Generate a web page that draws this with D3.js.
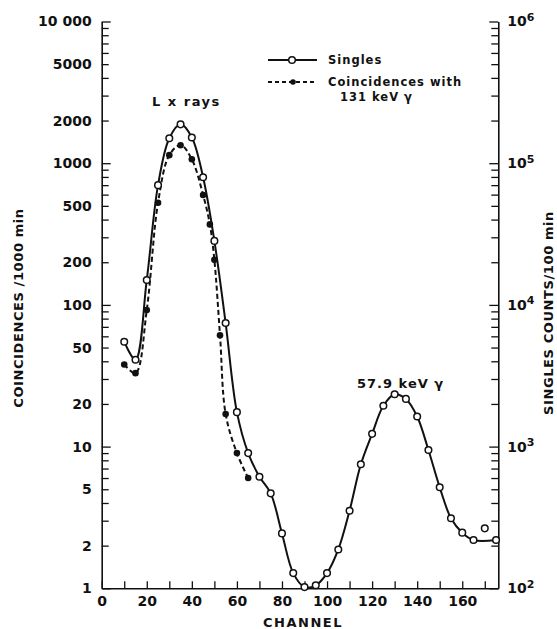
<!DOCTYPE html>
<html>
<head>
<meta charset="utf-8">
<script src="https://cdn.jsdelivr.net/npm/d3@7"></script>
<style>
  body { margin: 0; background: #fff; }
  text { font-family: "DejaVu Sans", sans-serif; font-weight: bold; fill: #111; }
</style>
</head>
<body>
<div id="chart"></div>
<script>
// Singles (right axis, counts / 100 min)
var singlesChannel = [10, 15, 20, 25, 30, 35, 40, 45, 50, 55, 60, 65, 70, 75, 80, 85, 90, 95,
  100, 105, 110, 115, 120, 125, 130, 135, 140, 145, 150, 155, 160, 165, 175];
var singlesCounts = [5500, 4100, 15000, 70000, 150000, 188000, 152000, 79500, 28300, 7450, 1750, 900, 613, 468, 244, 128, 102, 105,
  128, 188, 353, 750, 1230, 1940, 2340, 2170, 1630, 946, 516, 312, 247, 219, 219];
// stray singles point, not joined to the curve
var strayChannel = [170];
var strayCounts = [265];

// Coincidences with 131 keV gamma (left axis, per 1000 min)
var coincChannel = [10, 15, 20, 25, 30, 35, 40, 45, 48, 50, 52.5, 55, 60, 65];
var coincCounts = [38, 33, 92, 526, 1140, 1340, 1065, 597, 370, 208, 61, 17, 9, 6];

// tick labels
var xTicks = [0, 10, 20, 30, 40, 50, 60, 70, 80, 90, 100, 110, 120, 130, 140, 150, 160, 170];
var xLabels = [0, 20, 40, 60, 80, 100, 120, 140, 160];
var leftLabels = [1, 2, 5, 10, 20, 50, 100, 200, 500, 1000, 2000, 5000, 10000];
var rightLabels = [1e2, 1e3, 1e4, 1e5, 1e6];

var width = 557, height = 629;
var plot = {left: 101.7, right: 498.3, top: 21.5, bottom: 588.3};

var svg = d3.select("#chart")
  .append("svg")
    .attr("width", width)
    .attr("height", height);

// Scales
var x = d3.scaleLinear().domain([0, 176]).range([plot.left, plot.right]);
var yLeft = d3.scaleLog().domain([1, 10000]).range([plot.bottom, plot.top]);
var yRight = d3.scaleLog().domain([100, 1e6]).range([plot.bottom, plot.top]);

// all 1..9 x 10^k tick values
function logTicks(lo, hi) {
  var t = [];
  for (var p = lo; p < hi; p *= 10) {
    for (var m = 1; m < 10; m++) t.push(m * p);
  }
  t.push(hi);
  return t;
}
function isDecade(v) {
  var l = Math.log10(v);
  return Math.abs(l - Math.round(l)) < 1e-9;
}

// Add X axis
var xAxis = svg.append("g")
  .attr("transform", "translate(0," + plot.bottom + ")")
  .call(d3.axisBottom(x)
    .tickValues(xTicks)
    .tickSizeInner(-7)
    .tickSizeOuter(0)
    .tickPadding(8)
    .tickFormat(function(d) { return xLabels.indexOf(d) >= 0 ? d : ""; }));
xAxis.selectAll("text").style("font-size", "14px");

// X axis label
svg.append("text")
  .attr("x", 303)
  .attr("y", 627)
  .attr("text-anchor", "middle")
  .style("font-size", "13px")
  .style("letter-spacing", "1.5px")
  .text("CHANNEL");

// Add left Y axis
var leftAxis = svg.append("g")
  .attr("transform", "translate(" + plot.left + ",0)")
  .call(d3.axisLeft(yLeft)
    .tickValues(logTicks(1, 10000))
    .tickSizeInner(-7)
    .tickSizeOuter(0)
    .tickPadding(10)
    .tickFormat(function(d) {
      if (leftLabels.indexOf(d) < 0) return "";
      return d == 10000 ? "10 000" : d;
    }));
leftAxis.selectAll("line").attr("x2", function(d) { return isDecade(d) ? 9 : 7; });
leftAxis.selectAll("text").style("font-size", "14px");

// Left Y axis label
svg.append("text")
  .attr("transform", "translate(23,308) rotate(-90)")
  .attr("text-anchor", "middle")
  .style("font-size", "13px")
  .style("letter-spacing", "0.6px")
  .text("COINCIDENCES /1000 min");

// Add right Y axis
var rightAxis = svg.append("g")
  .attr("transform", "translate(" + plot.right + ",0)")
  .call(d3.axisRight(yRight)
    .tickValues(logTicks(100, 1e6))
    .tickSizeInner(-7)
    .tickSizeOuter(0)
    .tickPadding(9)
    .tickFormat(""));
rightAxis.selectAll("line").attr("x2", function(d) { return isDecade(d) ? -9 : -7; });
rightAxis.selectAll(".tick")
  .filter(function(d) { return rightLabels.indexOf(d) >= 0; })
  .append("text")
    .attr("x", 9)
    .attr("dy", "0.32em")
    .attr("text-anchor", "start")
    .style("font-size", "14px")
    .each(function(d) {
      var t = d3.select(this);
      t.append("tspan").text("10");
      t.append("tspan")
        .attr("dy", "-0.5em")
        .style("font-size", "11px")
        .text(Math.round(Math.log10(d)));
    });

// Right Y axis label
svg.append("text")
  .attr("transform", "translate(553,313) rotate(-90)")
  .attr("text-anchor", "middle")
  .style("font-size", "13px")
  .style("letter-spacing", "0.6px")
  .text("SINGLES  COUNTS/100 min");

svg.selectAll(".domain").attr("stroke", "#111").attr("stroke-width", 1.6);
svg.selectAll(".tick line").attr("stroke", "#111").attr("stroke-width", 1.3);

// Data tables
var singles = singlesChannel.map(function(c, i) { return {ch: c, v: singlesCounts[i]}; });
var stray = strayChannel.map(function(c, i) { return {ch: c, v: strayCounts[i]}; });
var coinc = coincChannel.map(function(c, i) { return {ch: c, v: coincCounts[i]}; });

// Coincidence curve (dashed)
svg.append("path")
  .datum(coinc)
  .attr("fill", "none")
  .attr("stroke", "#111")
  .attr("stroke-width", 2)
  .attr("stroke-dasharray", "5,3")
  .attr("d", d3.line()
    .curve(d3.curveCatmullRom.alpha(0.5))
    .x(function(d) { return x(d.ch); })
    .y(function(d) { return yLeft(d.v); }));

// Singles curve (solid)
svg.append("path")
  .datum(singles)
  .attr("fill", "none")
  .attr("stroke", "#111")
  .attr("stroke-width", 2)
  .attr("d", d3.line()
    .curve(d3.curveCatmullRom.alpha(0.5))
    .x(function(d) { return x(d.ch); })
    .y(function(d) { return yRight(d.v); }));

// Coincidence points
svg.selectAll(".coinc")
  .data(coinc)
  .enter().append("circle")
    .attr("cx", function(d) { return x(d.ch); })
    .attr("cy", function(d) { return yLeft(d.v); })
    .attr("r", 3.3)
    .attr("fill", "#111");

// Singles points
svg.selectAll(".single")
  .data(singles.concat(stray))
  .enter().append("circle")
    .attr("cx", function(d) { return x(d.ch); })
    .attr("cy", function(d) { return yRight(d.v); })
    .attr("r", 3.3)
    .attr("fill", "#fff")
    .attr("stroke", "#111")
    .attr("stroke-width", 1.5);

// Annotations
svg.append("text")
  .attr("x", 152)
  .attr("y", 106)
  .style("font-size", "13px")
  .style("letter-spacing", "1.5px")
  .text("L  x  rays");

svg.append("text")
  .attr("x", 357)
  .attr("y", 388)
  .style("font-size", "13px")
  .style("letter-spacing", "1px")
  .text("57.9 keV \u03B3");

// Legend
var legend = svg.append("g");
legend.append("line")
  .attr("x1", 268).attr("x2", 317).attr("y1", 60).attr("y2", 60)
  .attr("stroke", "#111").attr("stroke-width", 2);
legend.append("circle")
  .attr("cx", 292).attr("cy", 60).attr("r", 3.3)
  .attr("fill", "#fff").attr("stroke", "#111").attr("stroke-width", 1.5);
legend.append("text")
  .attr("x", 328).attr("y", 64)
  .style("font-size", "11.5px")
  .style("letter-spacing", "1px")
  .text("Singles");

legend.append("line")
  .attr("x1", 268).attr("x2", 317).attr("y1", 82).attr("y2", 82)
  .attr("stroke", "#111").attr("stroke-width", 2)
  .attr("stroke-dasharray", "4,3");
legend.append("circle")
  .attr("cx", 293).attr("cy", 82).attr("r", 2.8)
  .attr("fill", "#111");
legend.append("text")
  .attr("x", 328).attr("y", 86)
  .style("font-size", "11.5px")
  .style("letter-spacing", "1px")
  .text("Coincidences  with");
legend.append("text")
  .attr("x", 340).attr("y", 101)
  .style("font-size", "11.5px")
  .style("letter-spacing", "1px")
  .text("131 keV \u03B3");
</script>
</body>
</html>
